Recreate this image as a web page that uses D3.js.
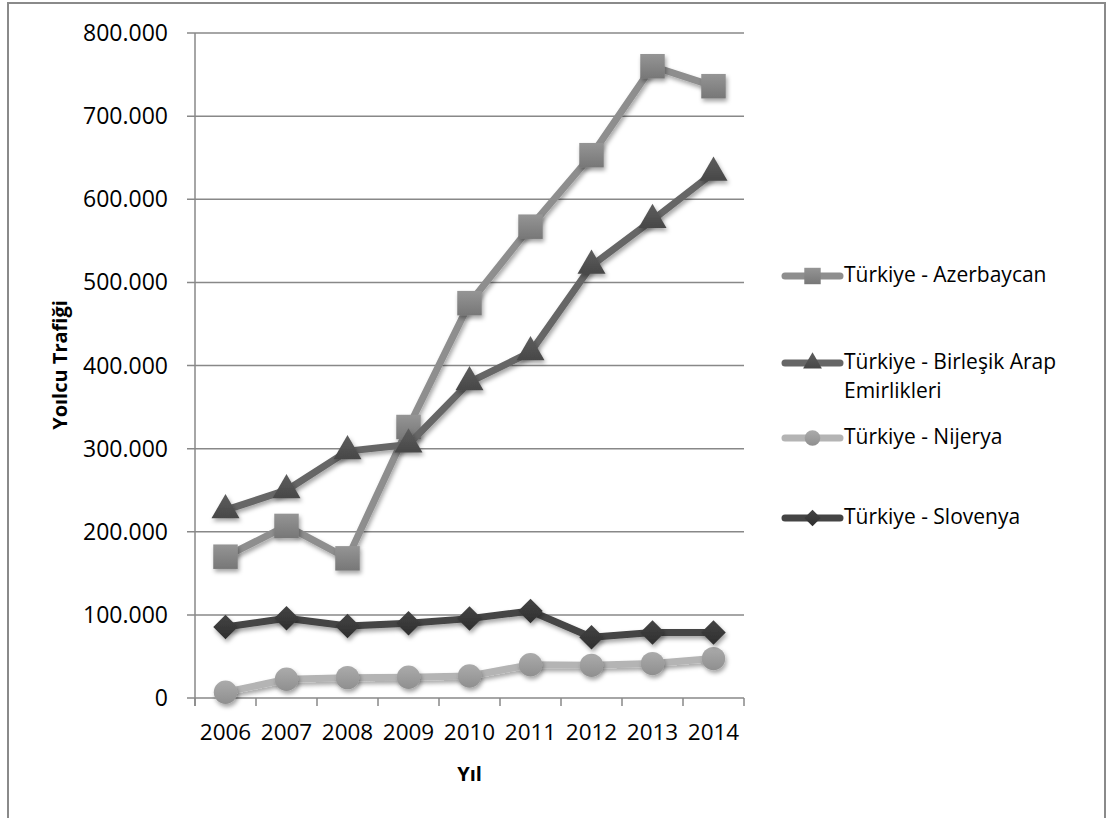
<!DOCTYPE html>
<html>
<head>
<meta charset="utf-8">
<script src="https://cdn.jsdelivr.net/npm/d3@7"></script>
<style>
  body { margin: 0; background: #fff; }
  text { font-family: "Open Sans", sans-serif; fill: #000; }
</style>
</head>
<body>
<script>
// veriler
const years = ["2006", "2007", "2008", "2009", "2010", "2011", "2012", "2013", "2014"];
const azerbaycan = [170000, 207000, 168000, 326000, 475000, 567000, 653000, 760000, 736000];
const birlesik = [226000, 250000, 297000, 305000, 380000, 416000, 520000, 575000, 632000];
const nijerya = [7000, 22500, 24500, 25000, 26500, 40000, 39300, 41400, 47400];
const slovenya = [85400, 96000, 86600, 90000, 95500, 104700, 73000, 78700, 78700];
const yTicks = [0, 100000, 200000, 300000, 400000, 500000, 600000, 700000, 800000];
const seriesNames = ["Türkiye - Azerbaycan", "Türkiye - Birleşik Arap Emirlikleri", "Türkiye - Nijerya", "Türkiye - Slovenya"];

// eşkenar dörtgen: 45 derece döndürülmüş kare
const diamond = {
  draw(context, size) {
    const r = Math.sqrt(size / 2);
    context.moveTo(0, -r);
    context.lineTo(r, 0);
    context.lineTo(0, r);
    context.lineTo(-r, 0);
    context.closePath();
  }
};

const series = [
  { name: seriesNames[0], lines: ["Türkiye - Azerbaycan"], values: azerbaycan, shape: d3.symbolSquare, size: 600, line: "#8e8e8e", top: "#959595", bottom: "#777" },
  { name: seriesNames[1], lines: ["Türkiye - Birleşik Arap", "Emirlikleri"], values: birlesik, shape: d3.symbolTriangle, size: 340, line: "#666", top: "#5e5e5e", bottom: "#474747" },
  { name: seriesNames[2], lines: ["Türkiye - Nijerya"], values: nijerya, shape: d3.symbolCircle, size: 430, line: "#b4b4b4", top: "#ababab", bottom: "#8f8f8f" },
  { name: seriesNames[3], lines: ["Türkiye - Slovenya"], values: slovenya, shape: diamond, size: 300, line: "#444", top: "#444", bottom: "#2e2e2e" }
];

const width = 1109, height = 818;
const plot = { left: 195, right: 744, top: 33, bottom: 698 };

const svg = d3.select("body").append("svg")
  .attr("width", width)
  .attr("height", height);

const defs = svg.append("defs");
const shadow = defs.append("filter").attr("id", "shadow")
  .attr("x", "-50%").attr("y", "-50%").attr("width", "200%").attr("height", "200%");
shadow.append("feDropShadow")
  .attr("dx", 1.5).attr("dy", 3).attr("stdDeviation", 2)
  .attr("flood-color", "#000").attr("flood-opacity", 0.35);

series.forEach((s, i) => {
  const g = defs.append("linearGradient").attr("id", "grad" + i)
    .attr("x1", 0).attr("y1", 0).attr("x2", 0).attr("y2", 1);
  g.append("stop").attr("offset", "0%").attr("stop-color", s.top);
  g.append("stop").attr("offset", "100%").attr("stop-color", s.bottom);
});

// çerçeve
svg.append("rect")
  .attr("x", 8).attr("y", 3).attr("width", 1097).attr("height", 830)
  .attr("fill", "none").attr("stroke", "#8a8a8a").attr("stroke-width", 2);

const x = d3.scaleBand().domain(years).range([plot.left, plot.right]);
const y = d3.scaleLinear().domain([0, 800000]).range([plot.bottom, plot.top]);

const trFormat = d3.formatLocale({ decimal: ",", thousands: ".", grouping: [3], currency: ["", ""] }).format(",");

// yatay ızgara çizgileri
svg.append("g").selectAll("line")
  .data(yTicks)
  .enter().append("line")
  .attr("x1", plot.left - 8).attr("x2", plot.right)
  .attr("y1", d => y(d)).attr("y2", d => y(d))
  .attr("stroke", "#888").attr("stroke-width", 1.5);

// y ekseni
svg.append("line")
  .attr("x1", plot.left).attr("x2", plot.left)
  .attr("y1", plot.top).attr("y2", plot.bottom + 8)
  .attr("stroke", "#888").attr("stroke-width", 1.5);

svg.append("g").selectAll("text")
  .data(yTicks)
  .enter().append("text")
  .attr("x", 168)
  .attr("y", d => y(d))
  .attr("dy", "0.35em")
  .attr("text-anchor", "end")
  .style("font-size", "23px")
  .text(d => trFormat(d));

// x ekseni çentikleri (kategori sınırlarında)
const edges = years.map(d => x(d)).concat([x(years[years.length - 1]) + x.bandwidth()]);
svg.append("g").selectAll("line")
  .data(edges)
  .enter().append("line")
  .attr("x1", d => d).attr("x2", d => d)
  .attr("y1", plot.bottom).attr("y2", plot.bottom + 8)
  .attr("stroke", "#888").attr("stroke-width", 1.5);

svg.append("g").selectAll("text")
  .data(years)
  .enter().append("text")
  .attr("x", d => x(d) + x.bandwidth() / 2)
  .attr("y", 740)
  .attr("text-anchor", "middle")
  .style("font-size", "22.5px")
  .text(d => d);

// eksen başlıkları
svg.append("text")
  .attr("x", (plot.left + plot.right) / 2)
  .attr("y", 781)
  .attr("text-anchor", "middle")
  .style("font-size", "20px")
  .style("font-weight", "bold")
  .text("Yıl");

svg.append("text")
  .attr("transform", "translate(67,365) rotate(-90)")
  .attr("text-anchor", "middle")
  .style("font-size", "20px")
  .style("font-weight", "bold")
  .text("Yoılcu Trafiği");

// seriler
const line = d3.line()
  .x((d, i) => x(years[i]) + x.bandwidth() / 2)
  .y(d => y(d));

series.forEach((s, si) => {
  const g = svg.append("g");
  g.append("path")
    .datum(s.values)
    .attr("d", line)
    .attr("fill", "none")
    .attr("stroke", s.line)
    .attr("stroke-width", 7)
    .attr("stroke-linejoin", "round")
    .attr("filter", "url(#shadow)");
  g.selectAll("path.m")
    .data(s.values)
    .enter().append("path")
    .attr("class", "m")
    .attr("d", d3.symbol().type(s.shape).size(s.size))
    .attr("transform", (d, i) => "translate(" + (x(years[i]) + x.bandwidth() / 2) + "," + y(d) + ")")
    .attr("fill", "url(#grad" + si + ")")
    .attr("filter", "url(#shadow)");
});

// lejant
const legendY = [275, 362, 437, 517];
const legend = svg.append("g");
series.forEach((s, i) => {
  const g = legend.append("g").attr("transform", "translate(0," + legendY[i] + ")");
  g.append("line")
    .attr("x1", 785).attr("x2", 840)
    .attr("y1", 1).attr("y2", 1)
    .attr("stroke", s.line).attr("stroke-width", 7).attr("stroke-linecap", "round");
  g.append("path")
    .attr("d", d3.symbol().type(s.shape).size(s.size * 0.45))
    .attr("transform", "translate(812.5,1)")
    .attr("fill", "url(#grad" + i + ")");
  g.selectAll("text")
    .data(s.lines)
    .enter().append("text")
    .attr("x", 844)
    .attr("y", (d, j) => j * 29)
    .attr("dy", "0.35em")
    .style("font-size", "21px")
    .text(d => d);
});
</script>
</body>
</html>
